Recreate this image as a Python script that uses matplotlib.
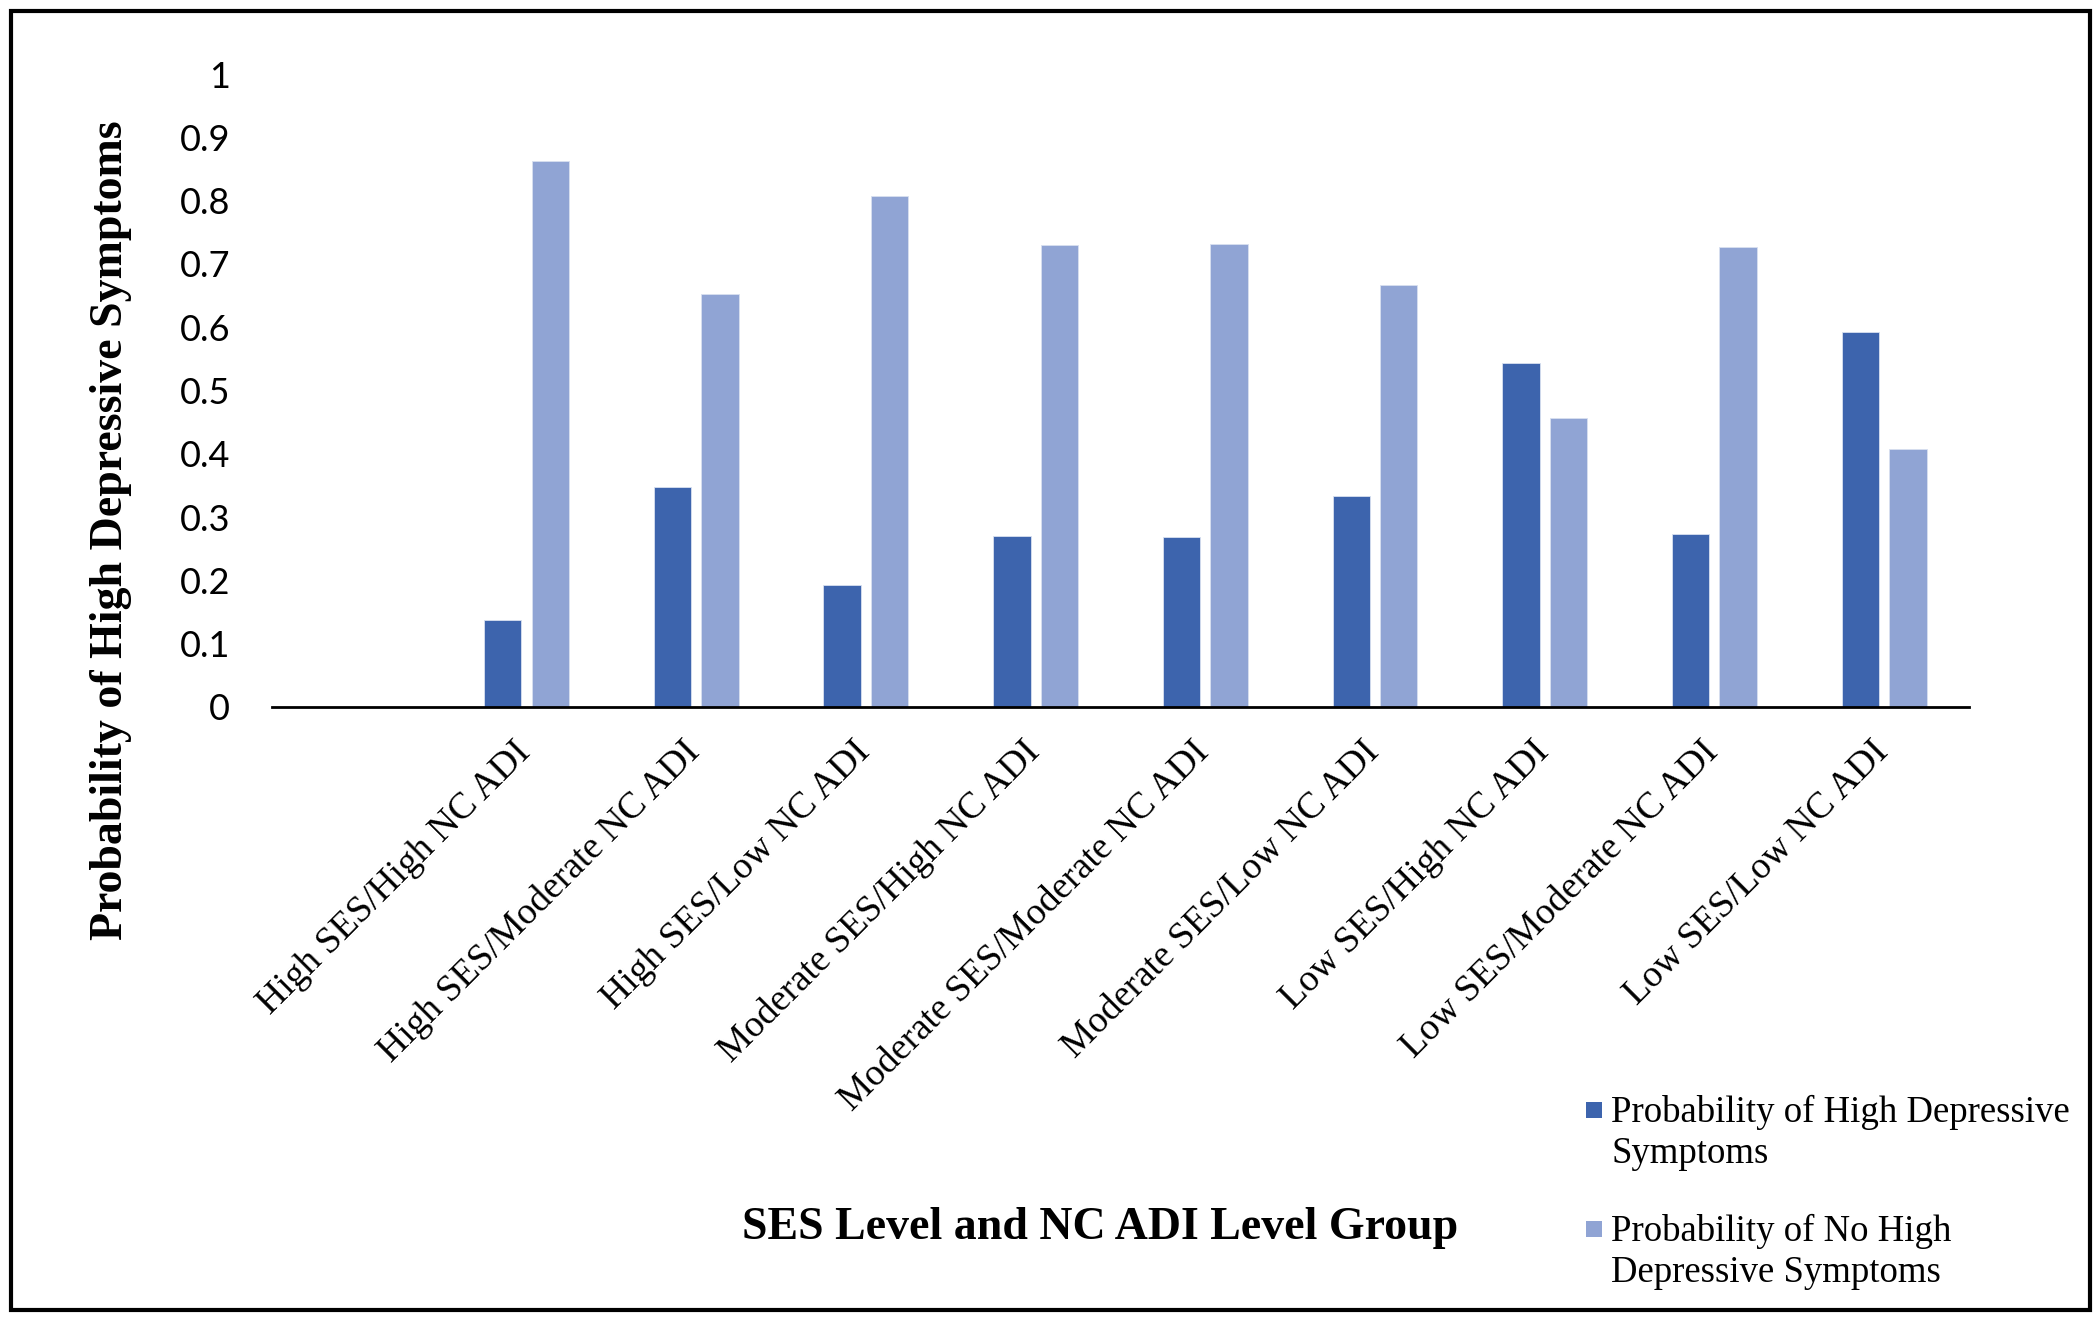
import matplotlib.pyplot as plt
import matplotlib.patches as patches
import matplotlib.transforms as mtransforms
import numpy as np

# categories (first slot on the axis is empty in the original chart)
groups = ['', 'High SES/High NC ADI', 'High SES/Moderate NC ADI', 'High SES/Low NC ADI',
          'Moderate SES/High NC ADI', 'Moderate SES/Moderate NC ADI', 'Moderate SES/Low NC ADI',
          'Low SES/High NC ADI', 'Low SES/Moderate NC ADI', 'Low SES/Low NC ADI']
p_high = [np.nan, 0.137, 0.347, 0.193, 0.270, 0.268, 0.333, 0.543, 0.274, 0.592]
p_no_high = [np.nan, 0.863, 0.653, 0.807, 0.730, 0.732, 0.667, 0.457, 0.726, 0.408]
yticks = [0, 0.1, 0.2, 0.3, 0.4, 0.5, 0.6, 0.7, 0.8, 0.9, 1]
ytick_labels = ['0', '0.1', '0.2', '0.3', '0.4', '0.5', '0.6', '0.7', '0.8', '0.9', '1']
series_names = ['Probability of High Depressive\nSymptoms',
                'Probability of No High\nDepressive Symptoms']

DARK = '#3D64AD'
LIGHT = '#90A4D4'
SERIF = 'Liberation Serif'

fig = plt.figure(figsize=(21, 13.2), dpi=100)
ax = fig.add_axes([0.1295, 0.4644, 0.8081, 0.4795])

x = np.arange(len(groups)) + 0.5
w = 0.22
ax.bar(x - 0.14, p_high, w, color=DARK, edgecolor='#D8E0F0', linewidth=0.6)
ax.bar(x + 0.14, p_no_high, w, color=LIGHT, edgecolor='#D8E0F0', linewidth=0.6)

ax.set_xlim(0, len(groups))
ax.set_ylim(0, 1)
for s in ['top', 'right', 'left']:
    ax.spines[s].set_visible(False)
ax.spines['bottom'].set_linewidth(2)
ax.spines['bottom'].set_color('black')

ax.set_yticks(yticks)
ax.set_yticklabels(ytick_labels, fontfamily='Lato', fontsize=26)
ax.tick_params(axis='y', length=0, pad=30)

ax.set_xticks(x)
ax.set_xticklabels(groups, rotation=45, ha='right', va='top',
                   fontfamily=SERIF, fontsize=27)
ax.tick_params(axis='x', length=0, pad=20)
shift = mtransforms.ScaledTranslation(11 / 100, 0, fig.dpi_scale_trans)
for lab in ax.get_xticklabels():
    lab.set_transform(lab.get_transform() + shift)

fig.text(0.053, 0.598, 'Probability of High Depressive Symptoms', rotation=90,
         ha='center', va='center', fontfamily=SERIF, fontweight='bold', fontsize=33)
fig.text(0.524, 0.070, 'SES Level and NC ADI Level Group', ha='center', va='center',
         fontfamily=SERIF, fontweight='bold', fontsize=33)

# legend drawn by hand so the swatch sits on the first line
for i, (name, c) in enumerate(zip(series_names, [DARK, LIGHT])):
    yc = 1 - (1110 + i * 119) / 1320
    fig.patches.append(patches.Rectangle((1586 / 2100, yc - 8 / 1320), 16 / 2100, 16 / 1320,
                                         transform=fig.transFigure, facecolor=c,
                                         edgecolor='none'))
    fig.text(1611 / 2100, yc + 15 / 1320, name, ha='left', va='top',
             fontfamily=SERIF, fontsize=26.5, linespacing=1.25)

# outer border of the figure
fig.patches.append(patches.Rectangle((11 / 2100, 10 / 1320), 2079 / 2100, 1299 / 1320,
                                     transform=fig.transFigure, facecolor='none',
                                     edgecolor='black', linewidth=3))

fig.savefig('out.png', dpi=100, facecolor='white')
